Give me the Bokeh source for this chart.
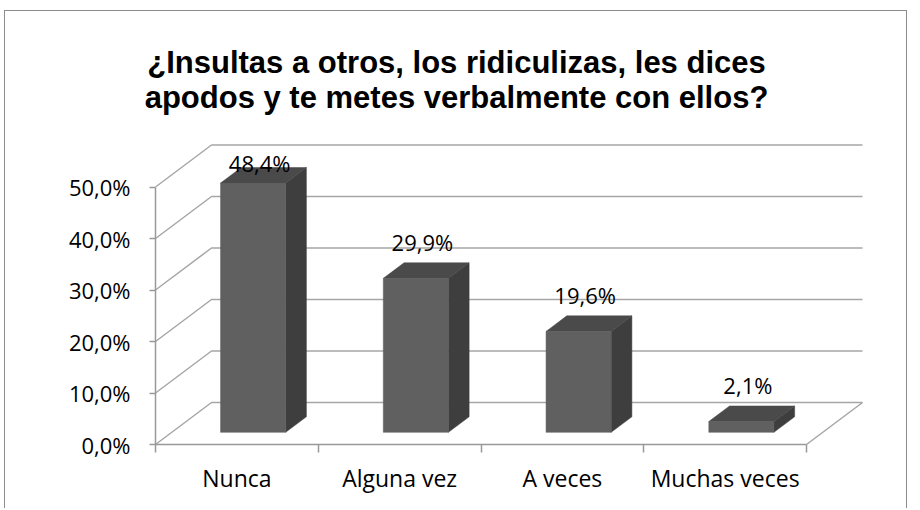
from bokeh.plotting import figure
from bokeh.models import FixedTicker, Range1d, ColumnDataSource, Label
from bokeh.core.properties import value
from bokeh.embed import file_html
from bokeh.resources import INLINE

# ---------------- data ----------------
categories = ["Nunca", "Alguna vez", "A veces", "Muchas veces"]
percentages = [48.4, 29.9, 19.6, 2.1]
value_labels = ["48,4%", "29,9%", "19,6%", "2,1%"]
y_ticks = [0, 10, 20, 30, 40, 50]
y_tick_labels = ["0,0%", "10,0%", "20,0%", "30,0%", "40,0%", "50,0%"]
title_lines = ["¿Insultas a otros, los ridiculizas, les dices",
               "apodos y te metes verbalmente con ellos?"]

# ---------------- layout / style ----------------
OX, OY = 5, 11                 # content origin on the page (inside border)
W, H = 903, 498
MB_L, MB_R, MB_T, MB_B = 40, 29, 0, 15
AXIS_PAGE_X = 155              # page x of the value axis
AXIS_PAGE_Y = 444              # page y of the category axis
YLABEL_PAGE_X = 130            # page x of right edge of value-axis labels
XLABEL_PAGE_Y = 477            # page y of category label baseline
PX_PER_CAT = 162.75
PX_PER_PCT = 5.15
frame_w = W - MB_L - MB_R
frame_h = H - MB_T - MB_B
x_start = -(AXIS_PAGE_X - OX - MB_L) / PX_PER_CAT
x_end = x_start + frame_w / PX_PER_CAT
y_start = -((OY + MB_T + frame_h) - AXIS_PAGE_Y) / PX_PER_PCT
y_end = y_start + frame_h / PX_PER_PCT

DEPTH_X = 56 / PX_PER_CAT      # floor depth (x) in category units
DEPTH_Y = 42 / PX_PER_PCT      # floor depth (y) in percent units
BAR_W = 0.4
BAR_T0 = 0.29
BAR_DEPTH = 0.37
LABEL_GAP = 7.0
LABEL_MAX = 50 + DEPTH_Y - 3.4

GRID_COLOR = "#a6a6a6"
AXIS_COLOR = "#999999"
FRONT = "#606060"
SIDE = "#3e3e3e"
TOP = "#4a4a4a"
FONT = "Open Sans"

n = len(categories)


def page_to_data(px, py):
    fx = px - OX - MB_L
    fy = (OY + MB_T + frame_h) - py
    return x_start + fx / PX_PER_CAT, y_start + fy / PX_PER_PCT


p = figure(width=W, height=H, output_backend="svg", toolbar_location=None,
           x_range=Range1d(x_start, x_end), y_range=Range1d(y_start, y_end),
           min_border_left=MB_L, min_border_right=MB_R,
           min_border_top=MB_T, min_border_bottom=MB_B)
p.outline_line_color = None
p.background_fill_color = "white"
p.border_fill_color = "white"
p.grid.visible = False
p.styles = {"margin-left": f"{OX - 1}px", "margin-top": f"{OY - 1}px",
            "border-top": "1px solid #8c8c8c",
            "border-left": "1px solid #8c8c8c",
            "border-right": "1px solid #8c8c8c"}

# ---------------- walls / gridlines ----------------
gx, gy = [], []
for yt in y_ticks:
    gx.append([0, DEPTH_X, n + DEPTH_X])
    gy.append([yt, yt + DEPTH_Y, yt + DEPTH_Y])
gx.append([n, n + DEPTH_X])
gy.append([0, DEPTH_Y])
p.multi_line(gx, gy, line_color=GRID_COLOR, line_width=1.5)

# ---------------- 3D bars ----------------
dx = BAR_DEPTH * DEPTH_X
dy = BAR_DEPTH * DEPTH_Y
base = BAR_T0 * DEPTH_Y
left, right, bottom, top = [], [], [], []
side_x, side_y, top_x, top_y = [], [], [], []
lab_x, lab_y = [], []
for i, v in enumerate(percentages):
    x0 = i + (1 - BAR_W) / 2 + BAR_T0 * DEPTH_X
    x1 = x0 + BAR_W
    t = base + v
    left.append(x0); right.append(x1); bottom.append(base); top.append(t)
    side_x.append([x1, x1 + dx, x1 + dx, x1])
    side_y.append([base, base + dy, t + dy, t])
    top_x.append([x0, x1, x1 + dx, x0 + dx])
    top_y.append([t, t, t + dy, t + dy])
    lab_x.append(x0 + BAR_W / 2 + 0.04)
    lab_y.append(min(t + LABEL_GAP, LABEL_MAX))

p.patches(side_x, side_y, fill_color=SIDE, line_color=SIDE, line_width=0.5)
p.patches(top_x, top_y, fill_color=TOP, line_color=TOP, line_width=0.5)
p.quad(left=left, right=right, bottom=bottom, top=top,
       fill_color=FRONT, line_color="#585858", line_width=0.5)

src = ColumnDataSource(dict(x=lab_x, y=lab_y, t=value_labels))
p.text(x="x", y="y", text="t", source=src, text_align="center",
       text_baseline="alphabetic", text_font=value(FONT),
       text_font_size="22px", text_color="black")

# ---------------- title ----------------
for line, py in zip(title_lines, [61.7, 96.7]):
    tx, ty = page_to_data(456, py)
    p.add_layout(Label(x=tx, y=ty, text=line, text_align="center",
                       text_baseline="alphabetic", text_font="Liberation Sans",
                       text_font_style="bold", text_font_size="31px",
                       text_color="black"))

# ---------------- value axis (line + ticks; labels as text) ----------------
ya = p.yaxis[0]
ya.fixed_location = 0
ya.ticker = FixedTicker(ticks=[], minor_ticks=y_ticks)
ya.bounds = (0, 50)
ya.axis_line_color = AXIS_COLOR
ya.axis_line_width = 1.5
ya.major_tick_line_color = None
ya.minor_tick_line_color = AXIS_COLOR
ya.minor_tick_line_width = 1.5
ya.minor_tick_out = 6
ya.minor_tick_in = 0

ylx, _ = page_to_data(YLABEL_PAGE_X, 0)
ysrc = ColumnDataSource(dict(x=[ylx] * len(y_ticks), y=y_ticks, t=y_tick_labels))
p.text(x="x", y="y", text="t", source=ysrc, text_align="right",
       text_baseline="middle", text_font=value(FONT),
       text_font_size="22px", text_color="black")

# ---------------- category axis (line + ticks; labels as text) ----------------
xa = p.xaxis[0]
xa.fixed_location = 0
xa.ticker = FixedTicker(ticks=[], minor_ticks=list(range(n + 1)))
xa.bounds = (0, n)
xa.axis_line_color = AXIS_COLOR
xa.axis_line_width = 1.5
xa.major_tick_line_color = None
xa.minor_tick_line_color = AXIS_COLOR
xa.minor_tick_line_width = 1.5
xa.minor_tick_out = 8
xa.minor_tick_in = 0

_, xly = page_to_data(0, XLABEL_PAGE_Y)
centers = [i + 0.5 for i in range(n)]
xsrc = ColumnDataSource(dict(x=centers, y=[xly] * n, t=categories))
p.text(x="x", y="y", text="t", source=xsrc, text_align="center",
       text_baseline="alphabetic", text_font=value(FONT),
       text_font_size="23px", text_color="black")

open("out.html", "w").write(file_html(p, INLINE))
